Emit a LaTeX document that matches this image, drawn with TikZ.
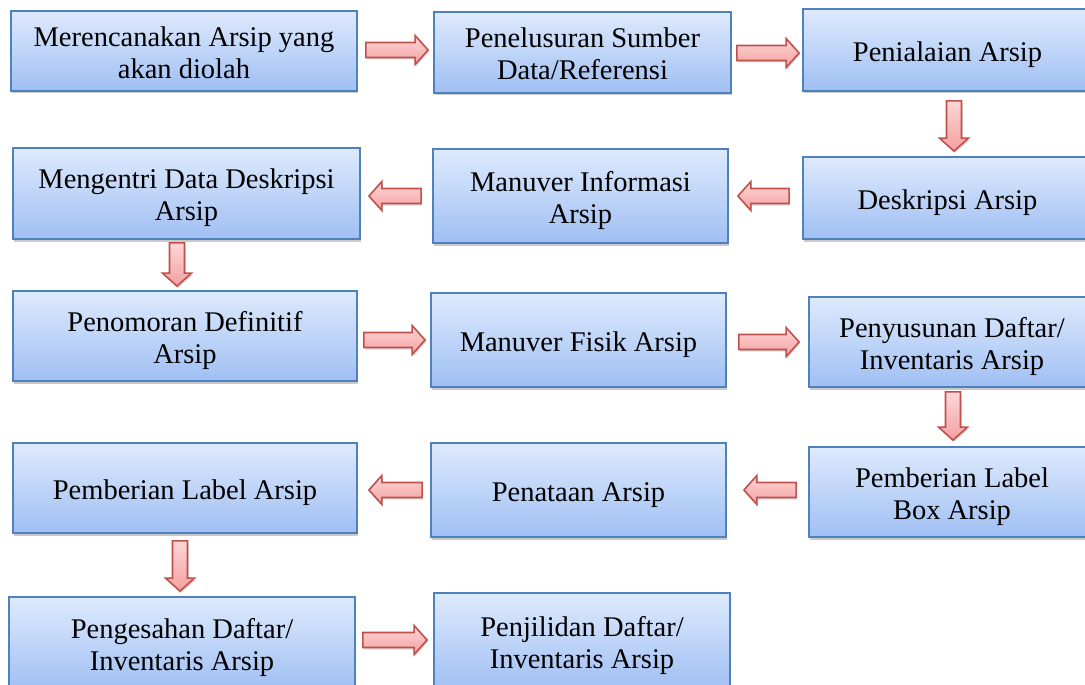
\documentclass[tikz,border=0pt]{standalone}
\usepackage{fontspec}
\setmainfont{Liberation Serif}
\usetikzlibrary{calc,shadows}
\definecolor{boxtop}{RGB}{222,234,253}
\definecolor{boxbot}{RGB}{160,191,243}
\definecolor{boxline}{RGB}{79,129,189}
\definecolor{arrtop}{RGB}{255,214,214}
\definecolor{arrbot}{RGB}{243,160,160}
\definecolor{arrline}{RGB}{192,80,77}
\tikzset{
  box/.style={draw=boxline, line width=1.8pt, top color=boxtop, bottom color=boxbot,
    inner sep=0pt, font=\fontsize{28.5}{32}\selectfont,
    drop shadow={shadow xshift=1pt, shadow yshift=-2.5pt, opacity=0.35, fill=black!60}},
  barrow/.style={draw=arrline, line width=1.6pt, line join=miter, top color=arrtop, bottom color=arrbot,
    drop shadow={shadow xshift=1pt, shadow yshift=-2pt, opacity=0.25, fill=black!60}}
}
\newcommand\bt[1]{\raisebox{-5pt}[\height][\depth]{\begin{tabular}{@{}c@{}}#1\end{tabular}}}
\newcommand\blockarr[2]{%
  \coordinate (#1h) at ($(#2)!13pt!(#1)$);
  \draw[barrow] ($(#1)!7.5pt!90:(#2)$) -- ($(#1h)!7.5pt!90:(#2)$) -- ($(#1h)!14.5pt!90:(#2)$)
    -- (#2) -- ($(#1h)!14.5pt!-90:(#2)$) -- ($(#1h)!7.5pt!-90:(#2)$) -- ($(#1)!7.5pt!-90:(#2)$) -- cycle;}
\begin{document}
\begin{tikzpicture}[x=1pt,y=-1pt]
\useasboundingbox (0,0) rectangle (1085,685);
\clip (0,0) rectangle (1085,685);
% row 1
\node[box, minimum width=346pt, minimum height=80pt] (b1) at (184,51) {\bt{Merencanakan Arsip yang\\akan diolah}};
\node[box, minimum width=297pt, minimum height=81pt] (b2) at (582.5,52.5) {\bt{Penelusuran Sumber\\Data/Referensi}};
\node[box, minimum width=289pt, minimum height=82pt] (b3) at (947.5,50) {\bt{Penialaian Arsip}};
% row 2
\node[box, minimum width=347pt, minimum height=91pt] (b4) at (186.5,193.5) {\bt{Mengentri Data Deskripsi\\Arsip}};
\node[box, minimum width=295pt, minimum height=94pt] (b5) at (580.5,196) {\bt{Manuver Informasi\\Arsip}};
\node[box, minimum width=289pt, minimum height=82pt] (b6) at (947.5,198) {\bt{Deskripsi Arsip}};
% row 3
\node[box, minimum width=344pt, minimum height=90pt] (b7) at (185,336) {\bt{Penomoran Definitif\\Arsip}};
\node[box, minimum width=295pt, minimum height=94pt] (b8) at (578.5,340) {\bt{Manuver Fisik Arsip}};
\node[box, minimum width=286pt, minimum height=90pt] (b9) at (952,342) {\bt{Penyusunan Daftar/\\Inventaris Arsip}};
% row 4
\node[box, minimum width=344pt, minimum height=90pt] (b10) at (185,488) {\bt{Pemberian Label Arsip}};
\node[box, minimum width=295pt, minimum height=94pt] (b11) at (578.5,490) {\bt{Penataan Arsip}};
\node[box, minimum width=286pt, minimum height=90pt] (b12) at (952,492) {\bt{Pemberian Label\\Box Arsip}};
% row 5
\node[box, minimum width=346pt, minimum height=93pt] (b13) at (182,643.5) {\bt{Pengesahan Daftar/\\Inventaris Arsip}};
\node[box, minimum width=296pt, minimum height=97pt] (b14) at (582,641.5) {\bt{Penjilidan Daftar/\\Inventaris Arsip}};
% arrow end points
\coordinate (a1s) at ($(b1.east)+(8,-1)$);   \coordinate (a1e) at ($(b1.east -| b2.west)+(-5,-1)$);
\coordinate (a2s) at ($(b2.east)+(5,0.5)$);  \coordinate (a2e) at ($(b2.east -| b3.west)+(-3,0.5)$);
\coordinate (a3s) at ($(b3.south)+(6.5,9)$); \coordinate (a3e) at ($(b3.south |- b6.north)+(6.5,-5)$);
\coordinate (a4s) at ($(b6.west)+(-13,-2)$); \coordinate (a4e) at ($(b6.west -| b5.east)+(9,-2)$);
\coordinate (a5s) at ($(b5.west)+(-11,0)$);  \coordinate (a5e) at ($(b5.west -| b4.east)+(8,0)$);
\coordinate (a6s) at ($(b4.south)+(-9.5,3)$); \coordinate (a6e) at ($(b4.south |- b7.north)+(-9.5,-4)$);
\coordinate (a7s) at ($(b7.east)+(6,4)$);    \coordinate (a7e) at ($(b7.east -| b8.west)+(-5,4)$);
\coordinate (a8s) at ($(b8.east)+(12,2)$);   \coordinate (a8e) at ($(b8.east -| b9.west)+(-9,2)$);
\coordinate (a9s) at ($(b9.south)+(1,4)$);   \coordinate (a9e) at ($(b9.south |- b12.north)+(1,-6)$);
\coordinate (a10s) at ($(b12.west)+(-12,-2)$); \coordinate (a10e) at ($(b12.west -| b11.east)+(17,-2)$);
\coordinate (a11s) at ($(b11.west)+(-8,0)$);  \coordinate (a11e) at ($(b11.west -| b10.east)+(11,0)$);
\coordinate (a12s) at ($(b10.south)+(-5,7)$); \coordinate (a12e) at ($(b10.south |- b13.north)+(-5,-5)$);
\coordinate (a13s) at ($(b13.east)+(7,-3.5)$); \coordinate (a13e) at ($(b13.east -| b14.west)+(-6,-3.5)$);
\blockarr{a1s}{a1e}
\blockarr{a2s}{a2e}
\blockarr{a3s}{a3e}
\blockarr{a4s}{a4e}
\blockarr{a5s}{a5e}
\blockarr{a6s}{a6e}
\blockarr{a7s}{a7e}
\blockarr{a8s}{a8e}
\blockarr{a9s}{a9e}
\blockarr{a10s}{a10e}
\blockarr{a11s}{a11e}
\blockarr{a12s}{a12e}
\blockarr{a13s}{a13e}
\end{tikzpicture}
\end{document}
